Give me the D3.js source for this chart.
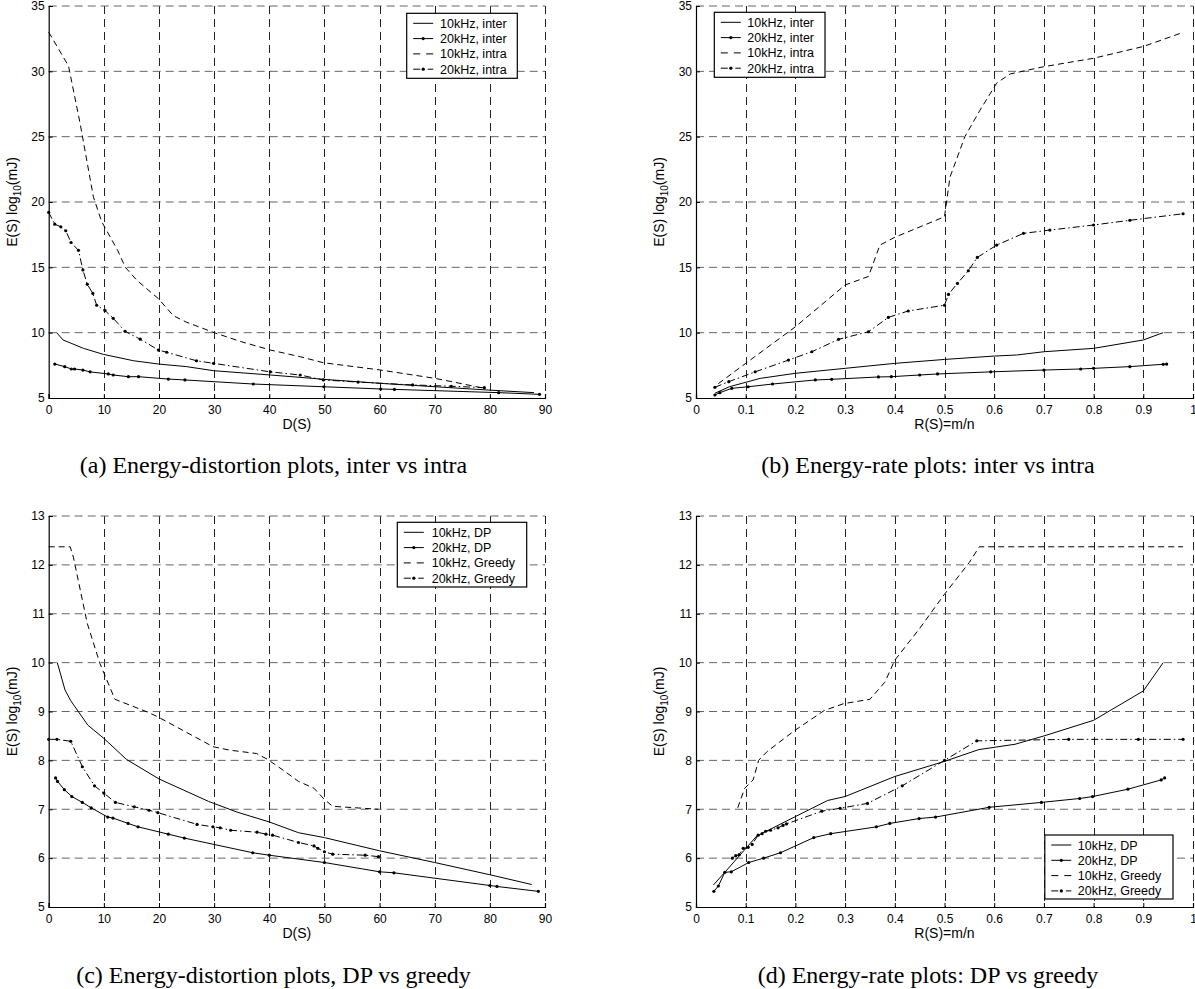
<!DOCTYPE html>
<html>
<head>
<meta charset="utf-8">
<script src="https://cdn.jsdelivr.net/npm/d3@7"></script>
<style>
    body { margin: 0; background: #fff; }
    svg { display: block; }
    text { font-family: "Liberation Sans", Arial, Helvetica, sans-serif; fill: #000; }
    .caption { font-family: "Liberation Serif", "Times New Roman", serif; }
</style>
</head>
<body>
<svg id="chart" width="1195" height="989"></svg>
<script>
// ticks
const distTicks = [0, 10, 20, 30, 40, 50, 60, 70, 80, 90];
const rateTicks = [0, 0.1, 0.2, 0.3, 0.4, 0.5, 0.6, 0.7, 0.8, 0.9, 1];
const energyTicksTop = [5, 10, 15, 20, 25, 30, 35];
const energyTicksBottom = [5, 6, 7, 8, 9, 10, 11, 12, 13];

const legendInterIntra = ["10kHz, inter", "20kHz, inter", "10kHz, intra", "20kHz, intra"];
const legendDpGreedy = ["10kHz, DP", "20kHz, DP", "10kHz, Greedy", "20kHz, Greedy"];

// (a) energy vs distortion, inter vs intra
const a10inter = [[1.45, 10.0], [2.6, 9.44], [4, 9.2], [6.3, 8.8], [9.9, 8.34], [15.4, 7.85], [19.9, 7.6], [25, 7.4],
    [29.9, 7.09], [40.2, 6.76], [45.6, 6.58], [49.8, 6.43], [60.2, 6.12], [70.1, 5.86], [80.1, 5.6], [88, 5.41]];
const a20inter = [[1.1, 7.6], [2.9, 7.4], [4.1, 7.22], [4.7, 7.22], [6.2, 7.14], [7.5, 7.0], [10.8, 6.84], [11.7, 6.76],
    [14.45, 6.63], [16.3, 6.63], [21.7, 6.45], [24.7, 6.38], [37.1, 6.07], [49.9, 5.86], [60.2, 5.69], [62.7, 5.66],
    [81.6, 5.41], [89, 5.28]];
const a10intra = [[0, 33.0], [3.6, 30.4], [5.7, 26.0], [8.1, 20.4], [9.6, 18.5], [12.5, 16.3], [13.9, 15.0], [16, 14.0],
    [19.9, 12.6], [22.6, 11.3], [25, 10.8], [30, 10.0], [35, 9.3], [40.2, 8.67], [45.6, 8.16], [49.8, 7.7],
    [60.2, 7.14], [70.1, 6.5], [73.1, 6.25], [79, 5.74]];
const a20intra = [[0, 19.2], [1.1, 18.3], [2.2, 18.1], [3.1, 17.8], [4.05, 16.9], [5.4, 16.3], [6.2, 14.8], [7.0, 13.7],
    [8.0, 13.0], [8.7, 12.1], [10.2, 11.7], [11.7, 11.1], [13.85, 10.1], [16.6, 9.5], [19.9, 8.67], [21.4, 8.5],
    [26.8, 7.85], [29.9, 7.65], [40.2, 7.0], [45.6, 6.76], [49.8, 6.38], [56.1, 6.22], [66, 6.0], [73, 5.9], [79, 5.79]];

// (b) energy vs rate, inter vs intra
const b10inter = [[0.038, 5.36], [0.067, 5.86], [0.129, 6.5], [0.2, 6.89], [0.3, 7.27], [0.4, 7.65], [0.5, 7.95],
    [0.6, 8.21], [0.645, 8.29], [0.7, 8.54], [0.8, 8.8], [0.9, 9.44], [0.94, 10.0]];
const b20inter = [[0.038, 5.23], [0.048, 5.41], [0.072, 5.74], [0.105, 5.86], [0.154, 6.07], [0.24, 6.38], [0.273, 6.43],
    [0.367, 6.61], [0.393, 6.63], [0.45, 6.76], [0.486, 6.84], [0.593, 7.0], [0.7, 7.14], [0.774, 7.22], [0.8, 7.27],
    [0.873, 7.4], [0.94, 7.58], [0.947, 7.6]];
const b10intra = [[0.045, 6.1], [0.1, 7.65], [0.2, 10.45], [0.3, 13.65], [0.347, 14.3], [0.37, 16.7], [0.4, 17.3],
    [0.5, 18.87], [0.511, 21.9], [0.541, 25], [0.571, 27], [0.605, 29.1], [0.632, 29.8], [0.699, 30.35], [0.8, 31],
    [0.9, 31.9], [0.974, 32.9]];
const b20intra = [[0.038, 5.82], [0.066, 6.25], [0.119, 7.0], [0.186, 7.9], [0.233, 8.54], [0.287, 9.49], [0.347, 10.07],
    [0.387, 11.17], [0.427, 11.66], [0.5, 12.1], [0.508, 12.93], [0.526, 13.77], [0.548, 14.74], [0.566, 15.76],
    [0.605, 16.7], [0.659, 17.6], [0.712, 17.85], [0.8, 18.24], [0.873, 18.6], [0.98, 19.1]];

// (c) energy vs distortion, DP vs greedy
const c10dp = [[1.56, 10.0], [2.96, 9.44], [4, 9.22], [7.1, 8.72], [10, 8.45], [14.1, 8.02], [20, 7.62], [24.5, 7.39],
    [29, 7.16], [34.2, 6.94], [40, 6.74], [45.3, 6.52], [50, 6.42], [60, 6.15], [70, 5.91], [80, 5.66], [87.6, 5.46]];
const c20dp = [[1.25, 7.64], [1.6, 7.57], [2.84, 7.4], [4.2, 7.26], [6.1, 7.14], [7.7, 7.03], [10.7, 6.84], [11.65, 6.82],
    [14.4, 6.71], [16.2, 6.64], [21.7, 6.49], [24.6, 6.41], [37, 6.11], [40, 6.06], [50, 5.91], [60, 5.72], [62.6, 5.7],
    [80, 5.44], [81.3, 5.42], [88.8, 5.32]];
const c10greedy = [[0, 12.37], [3.9, 12.37], [4.47, 12.16], [7.0, 10.8], [9.3, 9.98], [12.0, 9.25], [17.9, 8.99],
    [19.8, 8.89], [29.8, 8.28], [32.8, 8.21], [37.7, 8.14], [39.7, 8.02], [42.5, 7.8], [45.3, 7.57], [48.1, 7.43],
    [50, 7.2], [51.5, 7.06], [59.8, 7.0]];
const c20greedy = [[0, 8.43], [1.5, 8.43], [4.0, 8.39], [6.1, 7.87], [8.3, 7.48], [10, 7.33], [12.1, 7.14], [15.5, 7.05],
    [18.2, 6.98], [19.8, 6.93], [26.9, 6.69], [29.8, 6.64], [31.1, 6.62], [33, 6.57], [37.8, 6.53], [39.4, 6.49],
    [40.6, 6.47], [45.3, 6.32], [48.1, 6.25], [48.8, 6.2], [50, 6.13], [51.5, 6.08], [57.4, 6.06], [59.8, 6.03]];

// (d) energy vs rate, DP vs greedy
const d10dp = [[0.035, 5.45], [0.058, 5.71], [0.096, 6.15], [0.122, 6.45], [0.2, 6.85], [0.265, 7.18], [0.3, 7.26],
    [0.4, 7.67], [0.5, 7.98], [0.569, 8.22], [0.642, 8.33], [0.7, 8.5], [0.8, 8.82], [0.9, 9.42], [0.94, 10.0]];
const d20dp = [[0.036, 5.32], [0.045, 5.43], [0.058, 5.71], [0.071, 5.72], [0.106, 5.91], [0.136, 6.0], [0.17, 6.11],
    [0.237, 6.42], [0.271, 6.5], [0.363, 6.64], [0.39, 6.71], [0.449, 6.81], [0.482, 6.84], [0.59, 7.04], [0.695, 7.14],
    [0.772, 7.22], [0.798, 7.26], [0.869, 7.41], [0.936, 7.6], [0.943, 7.64]];
const d10greedy = [[0.084, 7.03], [0.098, 7.43], [0.115, 7.6], [0.126, 8.0], [0.143, 8.18], [0.197, 8.6], [0.258, 9.02],
    [0.297, 9.16], [0.35, 9.25], [0.38, 9.6], [0.4, 10.05], [0.45, 10.7], [0.5, 11.4], [0.55, 12.05], [0.57, 12.37],
    [0.98, 12.37]];
const d20greedy = [[0.073, 6.0], [0.08, 6.05], [0.087, 6.07], [0.095, 6.2], [0.105, 6.22], [0.113, 6.28], [0.125, 6.47],
    [0.133, 6.5], [0.14, 6.55], [0.15, 6.57], [0.165, 6.62], [0.175, 6.67], [0.182, 6.7], [0.253, 6.96], [0.29, 7.02],
    [0.345, 7.12], [0.415, 7.48], [0.5, 8.0], [0.565, 8.4], [0.75, 8.43], [0.89, 8.43], [0.98, 8.43]];

const styles = ["solid", "solidDot", "dash", "dashDot"];
const dashOf = { solid: null, solidDot: null, dash: "6,4", dashDot: "7,3,1.5,3" };

const svg = d3.select("#chart");

function drawPanel(p) {
    const x = d3.scaleLinear().domain(p.xDomain).range(p.xRange);
    const y = d3.scaleLinear().domain(p.yDomain).range(p.yRange);
    const g = svg.append("g");

    // grid (dashed, also acts as top/right frame)
    g.selectAll(".vg").data(p.xTicks.filter((d) => d !== p.xDomain[0])).enter().append("line")
        .attr("x1", (d) => Math.round(x(d)) + 0.5).attr("x2", (d) => Math.round(x(d)) + 0.5)
        .attr("y1", p.yRange[1]).attr("y2", p.yRange[0])
        .attr("stroke", "#222").attr("stroke-dasharray", "8,5");
    g.selectAll(".hg").data(p.yTicks.filter((d) => d !== p.yDomain[0])).enter().append("line")
        .attr("y1", (d) => y(d)).attr("y2", (d) => y(d))
        .attr("x1", p.xRange[0]).attr("x2", p.xRange[1])
        .attr("stroke", "#666").attr("stroke-dasharray", "8,5");

    // axes: left and bottom only, ticks pointing inward
    const xAxis = d3.axisBottom(x).tickValues(p.xTicks).tickSize(-4).tickPadding(7).tickFormat(p.xFormat);
    const yAxis = d3.axisLeft(y).tickValues(p.yTicks).tickSize(-4).tickPadding(4);
    const gx = g.append("g").attr("transform", `translate(0,${p.yRange[0]})`).call(xAxis);
    const gy = g.append("g").attr("transform", `translate(${p.xRange[0]},0)`).call(yAxis);
    [gx, gy].forEach((a) => {
        a.select(".domain").attr("stroke", "#000").attr("stroke-width", 1.2);
        a.selectAll("text").style("font-size", "12px");
    });

    // series
    const line = d3.line().x((d) => x(d[0])).y((d) => y(d[1]));
    p.series.forEach((s, i) => {
        const st = styles[i];
        g.append("path").datum(s).attr("d", line).attr("fill", "none")
            .attr("stroke", "#000").attr("stroke-width", 1)
            .attr("stroke-dasharray", dashOf[st]);
        if (st === "solidDot" || st === "dashDot") {
            g.selectAll(null).data(s).enter().append("circle")
                .attr("cx", (d) => x(d[0])).attr("cy", (d) => y(d[1])).attr("r", 1.6).attr("fill", "#000");
        }
    });

    // axis labels
    g.append("text").attr("x", (p.xRange[0] + p.xRange[1]) / 2).attr("y", p.yRange[0] + 31)
        .attr("text-anchor", "middle").style("font-size", "14px").text(p.xLabel);
    const yl = g.append("text")
        .attr("transform", `translate(${p.xRange[0] - 32},${(p.yRange[0] + p.yRange[1]) / 2}) rotate(-90)`)
        .attr("text-anchor", "middle").style("font-size", "14px");
    yl.append("tspan").text("E(S) log");
    yl.append("tspan").attr("dy", 4).style("font-size", "10px").text("10");
    yl.append("tspan").attr("dy", -4).text("(mJ)");

    // legend
    const L = p.legend;
    const lg = g.append("g").attr("transform", `translate(${L.x},${L.y})`);
    lg.append("rect").attr("width", L.w).attr("height", L.h)
        .attr("fill", "#fff").attr("stroke", "#000").attr("stroke-width", 1.2);
    p.labels.forEach((lab, i) => {
        const st = styles[i];
        const ly = 10 + i * 15.3;
        lg.append("line").attr("x1", 6.5).attr("x2", 26.5).attr("y1", ly).attr("y2", ly)
            .attr("stroke", "#000").attr("stroke-dasharray", st === "dash" ? "7,6" : st === "dashDot" ? "7,3,1.5,3" : null);
        if (st === "solidDot" || st === "dashDot") {
            lg.append("circle").attr("cx", 16.5).attr("cy", ly).attr("r", 1.6).attr("fill", "#000");
        }
        lg.append("text").attr("x", L.tx).attr("y", ly + 4.5).style("font-size", "12.5px").text(lab);
    });

    // caption
    svg.append("text").attr("class", "caption").attr("x", p.capX).attr("y", p.capY)
        .attr("text-anchor", "middle").style("font-size", "24px").text(p.caption);
}

const leftX = [48.7, 545], rightX = [696, 1193];
const topY = [398, 6], botY = [907, 516];
const fmtDist = d3.format("d");
const fmtRate = (d) => (d === 0 || d === 1 ? String(d) : d.toFixed(1));

drawPanel({
    xDomain: [0, 90], yDomain: [5, 35], xRange: leftX, yRange: topY,
    xTicks: distTicks, yTicks: energyTicksTop, xFormat: fmtDist, xLabel: "D(S)",
    series: [a10inter, a20inter, a10intra, a20intra], labels: legendInterIntra,
    legend: { x: 406.7, y: 13.3, w: 110.6, h: 65, tx: 33.3 },
    caption: "(a) Energy-distortion plots, inter vs intra", capX: 273.5, capY: 473
});
drawPanel({
    xDomain: [0, 1], yDomain: [5, 35], xRange: rightX, yRange: topY,
    xTicks: rateTicks, yTicks: energyTicksTop, xFormat: fmtRate, xLabel: "R(S)=m/n",
    series: [b10inter, b20inter, b10intra, b20intra], labels: legendInterIntra,
    legend: { x: 714.3, y: 12.3, w: 110.7, h: 65, tx: 33 },
    caption: "(b) Energy-rate plots: inter vs intra", capX: 928, capY: 473
});
drawPanel({
    xDomain: [0, 90], yDomain: [5, 13], xRange: leftX, yRange: botY,
    xTicks: distTicks, yTicks: energyTicksBottom, xFormat: fmtDist, xLabel: "D(S)",
    series: [c10dp, c20dp, c10greedy, c20greedy], labels: legendDpGreedy,
    legend: { x: 397.3, y: 522.3, w: 129.4, h: 64.7, tx: 34.4 },
    caption: "(c) Energy-distortion plots, DP vs greedy", capX: 273.5, capY: 983
});
drawPanel({
    xDomain: [0, 1], yDomain: [5, 13], xRange: rightX, yRange: botY,
    xTicks: rateTicks, yTicks: energyTicksBottom, xFormat: fmtRate, xLabel: "R(S)=m/n",
    series: [d10dp, d20dp, d10greedy, d20greedy], labels: legendDpGreedy,
    legend: { x: 1044.8, y: 835, w: 128.2, h: 64, tx: 33 },
    caption: "(d) Energy-rate plots: DP vs greedy", capX: 928, capY: 983
});
</script>
</body>
</html>
